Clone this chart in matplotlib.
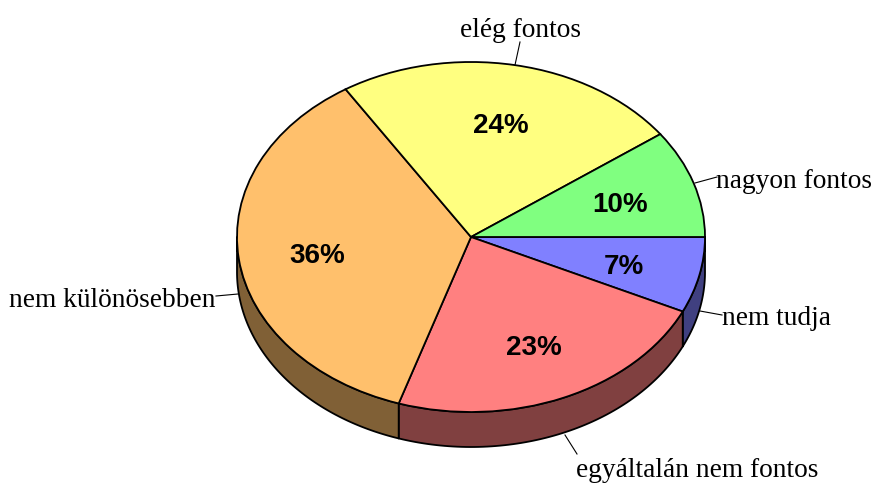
import numpy as np
import matplotlib
matplotlib.use("Agg")
import matplotlib.pyplot as plt
from matplotlib.patches import Polygon

categories = ["nem tudja", "egyáltalán nem fontos", "nem különösebben", "elég fontos", "nagyon fontos"]
values = [7, 23, 36, 24, 10]
pct_labels = ["7%", "23%", "36%", "24%", "10%"]
top_colors = ["#8080FF", "#FF8080", "#FFC06C", "#FFFF80", "#80FF80"]
side_colors = ["#404080", "#804040", "#806036", "#808040", "#408040"]

W, H = 875, 483
CX, CY, RX, RY, DEPTH = 471, 237, 234, 175, 35

fig = plt.figure(figsize=(W / 100, H / 100), dpi=100)
ax = fig.add_axes([0, 0, 1, 1])

wedges, _ = ax.pie(values, colors=top_colors, startangle=0, counterclock=False, radius=1,
                   wedgeprops=dict(edgecolor="black", linewidth=1.3, zorder=3))
ax.set_aspect("auto")
ax.set_xlim(-CX / RX, (W - CX) / RX)
ax.set_ylim(-(H - CY) / RY, CY / RY)
d = DEPTH / RY

# side wall
edges = -np.cumsum([0] + values) / sum(values) * 2 * np.pi
for i in range(len(values)):
    a0, a1 = edges[i], edges[i + 1]
    lo, hi = max(a1, -np.pi), min(a0, 0.0)
    if lo >= hi:
        continue
    t = np.linspace(hi, lo, 80)
    x, y = np.cos(t), np.sin(t)
    pts = np.r_[np.c_[x, y], np.c_[x[::-1], y[::-1] - d]]
    ax.add_patch(Polygon(pts, closed=True, facecolor=side_colors[i], edgecolor="black",
                         linewidth=1.3, zorder=2, joinstyle="round"))

# percent labels
pct_pos = [(624, 267), (533.5, 348), (317, 256), (501, 126), (620, 205)]
for s, (px, py) in zip(pct_labels, pct_pos):
    ax.text((px - CX) / RX, (CY - py) / RY, s, ha="center", va="center", fontsize=20,
            fontweight="bold", family="Liberation Sans", zorder=5)

# category labels with leader lines
anno = [
    ("nem tudja", (722, 318.5), "left", (700, 311), (722, 315)),
    ("egyáltalán nem fontos", (697, 470.5), "center", (565, 435), (577, 454)),
    ("nem különösebben", (112, 300.5), "center", (238, 294), (216, 296)),
    ("elég fontos", (520, 30.5), "center", (515, 65), (520, 42)),
    ("nagyon fontos", (716.5, 181.5), "left", (695, 183), (717, 177)),
]
for name, (tx, ty), ha, p0, p1 in anno:
    ax.text((tx - CX) / RX, (CY - ty) / RY, name, ha=ha, va="center", fontsize=19.7,
            family="Liberation Serif", zorder=5)
    ax.plot([(p0[0] - CX) / RX, (p1[0] - CX) / RX], [(CY - p0[1]) / RY, (CY - p1[1]) / RY],
            color="black", lw=0.8, zorder=4)

fig.savefig("out.png", dpi=100)
